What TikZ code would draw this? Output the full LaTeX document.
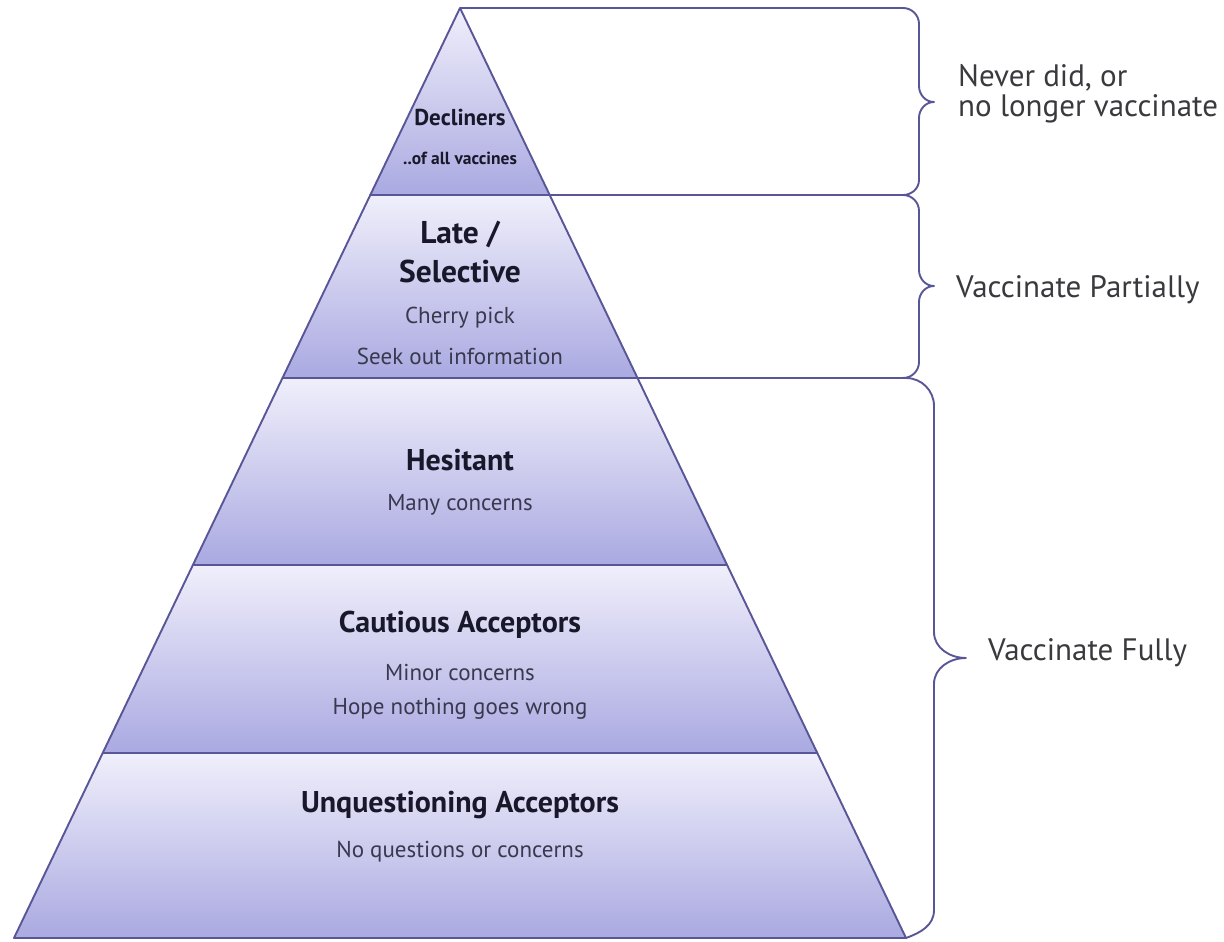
\documentclass[tikz,border=0pt]{standalone}
\usepackage{fontspec}
\setmainfont{PT Sans}
\usepackage{xcolor}
\usepackage{tikz}
\usetikzlibrary{calc,positioning}

\definecolor{pyrline}{RGB}{88,86,150}
\definecolor{bandtop}{RGB}{240,239,251}
\definecolor{bandbot}{RGB}{170,169,225}
\definecolor{headtext}{RGB}{24,24,42}
\definecolor{subtext}{RGB}{56,56,78}
\definecolor{sidetext}{RGB}{58,58,62}

\begin{document}
\begin{tikzpicture}[
  x=1pt, y=-1pt,
  band/.style={top color=bandtop, bottom color=bandbot, draw=pyrline, line width=1.9pt, line join=round},
  brace/.style={draw=pyrline, line width=1.9pt, line join=round},
  head/.style={font=\fontsize{30}{33}\selectfont\bfseries, text=headtext, inner sep=0pt, align=center},
  sub/.style={font=\fontsize{23}{26}\selectfont, text=subtext, inner sep=0pt},
  side/.style={font=\fontsize{31}{30}\selectfont, text=sidetext, anchor=west, align=left, inner sep=0pt}
]
\useasboundingbox (0,0) rectangle (1224,942);

% pyramid corners
\coordinate (apex) at (460,8);
\coordinate (l1) at (370.3,195);  \coordinate (r1) at (549.7,195);
\coordinate (l2) at (282.5,378);  \coordinate (r2) at (637.5,378);
\coordinate (l3) at (192.9,565);  \coordinate (r3) at (727.1,565);
\coordinate (l4) at (102.7,753);  \coordinate (r4) at (817.3,753);
\coordinate (l5) at (14,938);     \coordinate (r5) at (906,938);

% bands
\path[band] (apex) -- (r1) -- (l1) -- cycle;
\path[band] (l1) -- (r1) -- (r2) -- (l2) -- cycle;
\path[band] (l2) -- (r2) -- (r3) -- (l3) -- cycle;
\path[band] (l3) -- (r3) -- (r4) -- (l4) -- cycle;
\path[band] (l4) -- (r4) -- (r5) -- (l5) -- cycle;

% band texts
\node[head, font=\fontsize{23}{25}\selectfont\bfseries] (decl) at (460,117) {Decliners};
\node[sub, font=\fontsize{17.5}{19}\selectfont\bfseries, text=headtext] (declsub) at (460,158) {..of all vaccines};

\node[head, font=\fontsize{31.5}{39}\selectfont\bfseries] (late) at (460,252) {Late /\\Selective};
\node[sub] (cherry) at (460,318) {Cherry pick};
\node[sub] (seek) at (460,356) {Seek out information};

\node[head] (hes) at (460,460) {Hesitant};
\node[sub] (many) at (460,505) {Many concerns};

\node[head] (caut) at (460,625) {Cautious Acceptors};
\node[sub] (minor) at (460,672) {Minor concerns};
\node[sub] (hope) at (460,709) {Hope nothing goes wrong};

\node[head] (unq) at (460,805) {Unquestioning Acceptors};
\node[sub] (noq) at (460,852) {No questions or concerns};

% braces
\draw[brace] (apex) -- (903,8) to[out=0,in=90] (919,24) -- (919,86)
  to[out=-90,in=180] (934,102) to[out=180,in=90] (919,118) -- (919,180)
  to[out=-90,in=0] (903,195) -- (r1);
\draw[brace] (r1) -- (903,195) to[out=0,in=90] (919,211) -- (919,270)
  to[out=-90,in=180] (934,286) to[out=180,in=90] (919,302) -- (919,362)
  to[out=-90,in=0] (903,378) -- (r2);
\draw[brace] (r2) -- (906,378) to[out=0,in=90] (934,406) -- (934,632)
  to[out=-90,in=180] (966,658) to[out=180,in=90] (934,684) -- (934,910)
  to[out=-90,in=20] (r5);

% brace labels
\node[side] (never) at (958,94) {Never did, or\\no longer vaccinate};
\node[side] (partial) at (956,290) {Vaccinate Partially};
\node[side] (fully) at (988,653) {Vaccinate Fully};
\end{tikzpicture}
\end{document}
